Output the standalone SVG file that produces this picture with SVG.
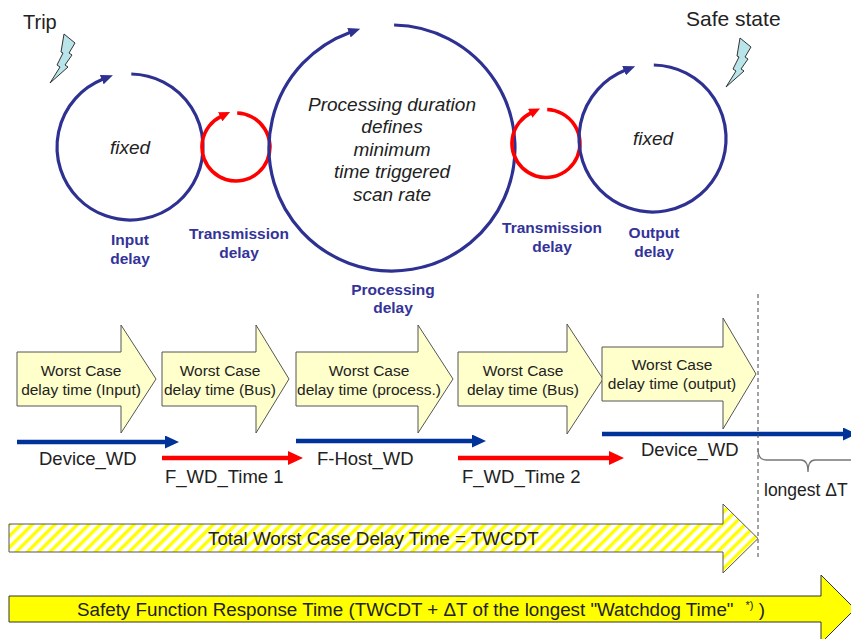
<svg xmlns="http://www.w3.org/2000/svg" width="851" height="639" viewBox="0 0 851 639">
<style>
text{font-family:"Liberation Sans",Arial,sans-serif;}
.big{font-size:20px;fill:#222;}
.it{font-size:19px;font-style:italic;fill:#222;text-anchor:middle;}
.lbl{font-size:15.5px;font-weight:bold;fill:#333399;text-anchor:middle;}
.wc{font-size:15.5px;fill:#222;text-anchor:middle;}
.wd{font-size:18.5px;fill:#222;}
.bar{font-size:18.8px;fill:#222;}
.cb{fill:none;stroke:#2E3192;stroke-width:3.2;}
.cr{fill:none;stroke:#FF0000;stroke-width:3.6;}
.arw{fill:#FFFFCC;stroke:#555;stroke-width:1;}
.bolt{fill:#B8E4EA;stroke:#333;stroke-width:1;}
.lb{stroke:#003399;stroke-width:4.5;fill:none;}
.lr{stroke:#FF0000;stroke-width:4.5;fill:none;}
</style>
<defs>
<marker id="mb" viewBox="0 0 12 10" refX="1" refY="5" markerWidth="12" markerHeight="10" markerUnits="userSpaceOnUse" orient="auto"><path d="M0,0 L12,5 L0,10 z" fill="#2E3192"/></marker>
<marker id="mr" viewBox="0 0 11 10" refX="1" refY="5" markerWidth="11" markerHeight="10" markerUnits="userSpaceOnUse" orient="auto"><path d="M0,0 L11,5 L0,10 z" fill="#FF0000"/></marker>
<marker id="hb" viewBox="0 0 14 13" refX="0" refY="6.5" markerWidth="14" markerHeight="13" markerUnits="userSpaceOnUse" orient="auto"><path d="M0,0 L14,6.5 L0,13 z" fill="#003399"/></marker>
<marker id="hr" viewBox="0 0 15 14" refX="0" refY="7" markerWidth="15" markerHeight="14" markerUnits="userSpaceOnUse" orient="auto"><path d="M0,0 L15,7 L0,14 z" fill="#FF0000"/></marker>
<pattern id="stripe" patternUnits="userSpaceOnUse" width="8" height="8" patternTransform="rotate(45)"><rect width="8" height="8" fill="#FFFFFF"/><rect width="3.4" height="8" fill="#FFFF00"/></pattern>
<polygon id="boltshape" points="64,34 75,43 69,53 72,55 65,65 68,67 50,83 60,67 57,65 63,53 61,52"/>
</defs>

<g id="trip">
<text class="big" x="23" y="29">Trip</text>
<use href="#boltshape" class="bolt"/>
</g>
<g id="safe-state">
<text class="big" x="686" y="26" style="font-size:21px">Safe state</text>
<use href="#boltshape" class="bolt" transform="translate(676,4)"/>
</g>

<g id="input-delay">
<path class="cb" d="M131.3,74 A73,73 0 1 1 102.7,79.3" marker-end="url(#mb)"/>
<text class="it" x="130" y="154">fixed</text>
<text class="lbl" x="130" y="245">Input</text>
<text class="lbl" x="130" y="264">delay</text>
</g>

<g id="transmission-delay-1">
<path class="cr" d="M237.2,113 A34,34 0 1 1 221.1,116.4" marker-end="url(#mr)"/>
<text class="lbl" x="239" y="239">Transmission</text>
<text class="lbl" x="239" y="258">delay</text>
</g>

<g id="processing-delay">
<path class="cb" d="M394.1,25 A123,123 0 1 1 349.9,32.4" marker-end="url(#mb)"/>
<text class="it" x="392" y="110.5">Processing duration</text>
<text class="it" x="392" y="133">defines</text>
<text class="it" x="392" y="155.5">minimum</text>
<text class="it" x="392" y="178">time triggered</text>
<text class="it" x="392" y="200.5">scan rate</text>
<text class="lbl" x="393" y="295">Processing</text>
<text class="lbl" x="393" y="313">delay</text>
</g>

<g id="transmission-delay-2">
<path class="cr" d="M547.2,109.5 A34,34 0 1 1 531.1,112.9" marker-end="url(#mr)"/>
<text class="lbl" x="552" y="233">Transmission</text>
<text class="lbl" x="552" y="252">delay</text>
</g>

<g id="output-delay">
<path class="cb" d="M653.8,65 A73.5,73.5 0 1 1 625,70.35" marker-end="url(#mb)"/>
<text class="it" x="653" y="145">fixed</text>
<text class="lbl" x="654" y="238">Output</text>
<text class="lbl" x="654" y="257">delay</text>
</g>

<g id="wc-input">
<polygon class="arw" points="17,352 121,352 121,325 156,379 121,433 121,406 17,406"/>
<text class="wc" x="81" y="376">Worst Case</text>
<text class="wc" x="81" y="395">delay time (Input)</text>
</g>
<g id="wc-bus-1">
<polygon class="arw" points="162,352 256,352 256,325 289,379 256,433 256,406 162,406"/>
<text class="wc" x="220" y="376">Worst Case</text>
<text class="wc" x="220" y="395">delay time (Bus)</text>
</g>
<g id="wc-process">
<polygon class="arw" points="296,352 418,352 418,325 453,379 418,433 418,406 296,406"/>
<text class="wc" x="369" y="376">Worst Case</text>
<text class="wc" x="369" y="395">delay time (process.)</text>
</g>
<g id="wc-bus-2">
<polygon class="arw" points="458,352 567,352 567,324 603,379 567,434 567,406 458,406"/>
<text class="wc" x="523" y="376">Worst Case</text>
<text class="wc" x="523" y="395">delay time (Bus)</text>
</g>
<g id="wc-output">
<polygon class="arw" points="602,347 723,347 723,318 756,374 723,429 723,401 602,401"/>
<text class="wc" x="672" y="370">Worst Case</text>
<text class="wc" x="672" y="389">delay time (output)</text>
</g>

<g id="watchdogs">
<line class="lb" x1="17" y1="442" x2="165" y2="442" marker-end="url(#hb)"/>
<text class="wd" x="39" y="465">Device_WD</text>
<line class="lr" x1="162" y1="458" x2="288" y2="458" marker-end="url(#hr)"/>
<text class="wd" x="165" y="483">F_WD_Time 1</text>
<line class="lb" x1="296" y1="441" x2="472" y2="441" marker-end="url(#hb)"/>
<text class="wd" x="317" y="465">F-Host_WD</text>
<line class="lr" x1="458" y1="458" x2="609" y2="458" marker-end="url(#hr)"/>
<text class="wd" x="462" y="483">F_WD_Time 2</text>
<line class="lb" x1="602" y1="434" x2="843" y2="434" marker-end="url(#hb)"/>
<text class="wd" x="641" y="456">Device_WD</text>
</g>

<g id="longest-dt">
<line x1="758" y1="294" x2="758" y2="557" stroke="#444" stroke-width="1" stroke-dasharray="4,3"/>
<path d="M758,449 Q758,460 766,460 L801,460 Q808,460 808,472 Q808,460 815,460 L860,460" fill="none" stroke="#777" stroke-width="1.3"/>
<text class="wd" x="764" y="496" style="font-size:17.5px">longest ΔT</text>
</g>

<g id="twcdt">
<polygon points="9,524 723,524 723,504 758,538.5 723,573 723,552 9,552" fill="url(#stripe)" stroke="#555" stroke-width="1"/>
<text class="bar" x="208" y="545">Total Worst Case Delay Time = TWCDT</text>
</g>

<g id="sfrt">
<polygon points="9,596 821,596 821,575 855,609 821,643 821,622 9,622" fill="#FFFF00" stroke="#333" stroke-width="1"/>
<text class="bar" x="77" y="616">Safety Function Response Time (TWCDT + ΔT of the longest "Watchdog Time"<tspan dx="12" dy="-7" font-size="11">*)</tspan><tspan dy="7"> )</tspan></text>
</g>
</svg>
